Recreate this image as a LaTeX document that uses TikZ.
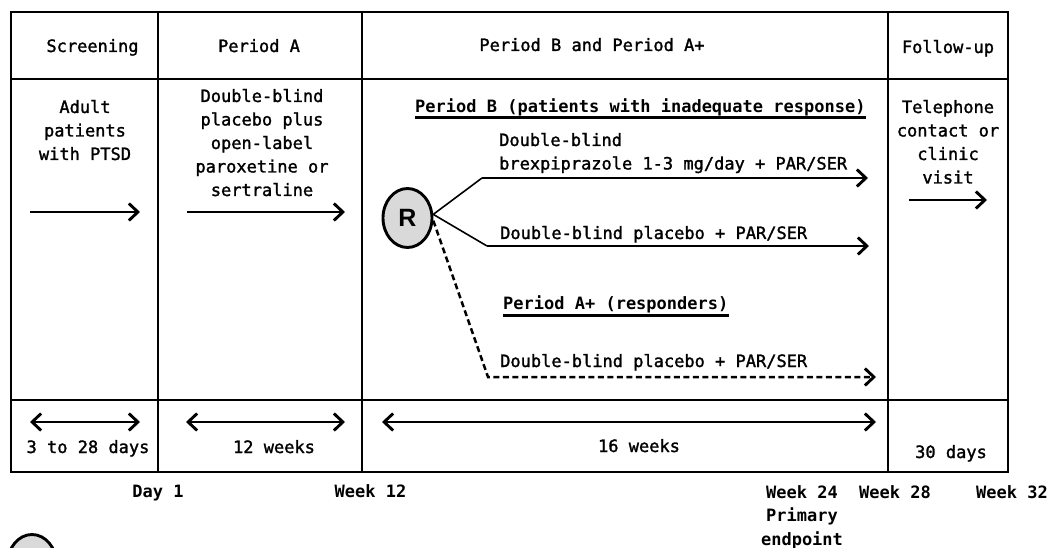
\documentclass[tikz,border=0pt]{standalone}
\usepackage{fontspec}
\setmonofont{DejaVu Sans Mono}
\newfontfamily\medmono{DejaVu Sans Mono}[FakeBold=1.5]
\newfontfamily\rfont{Liberation Sans}
\usetikzlibrary{arrows.meta,calc,shapes.geometric}
\definecolor{rgray}{HTML}{D9D9D9}
\begin{document}
\begin{tikzpicture}[x=1pt,y=-1pt,
  txt/.style={font=\medmono\fontsize{17}{23.5}\selectfont, inner sep=0pt, align=center, anchor=base},
  txtl/.style={font=\medmono\fontsize{17}{23.5}\selectfont, inner sep=0pt, align=left, anchor=base west},
  head/.style={font=\ttfamily\bfseries\fontsize{17}{23.5}\selectfont, inner sep=0pt, anchor=base west},
  bot/.style={font=\ttfamily\bfseries\fontsize{17}{23.5}\selectfont, inner sep=0pt, align=center, anchor=base},
  box/.style={line width=2.9pt},
  ul/.style={line width=2.2pt},
  arr/.style={line width=2.9pt, -{Straight Barb[length=9pt,width=17pt]}},
  darr/.style={line width=2.9pt, {Straight Barb[length=9pt,width=17pt]}-{Straight Barb[length=9pt,width=17pt]}},
  dasharr/.style={line width=2.5pt, dash pattern=on 6pt off 3.5pt, -{Straight Barb[length=9pt,width=17pt,line width=2.9pt]}},
  thinline/.style={line width=1.6pt},
  rnode/.style={ellipse, draw, line width=2.9pt, fill=rgray, minimum width=49pt, minimum height=59pt, inner sep=0pt, font=\rfont\bfseries\fontsize{25}{25}\selectfont}
]
\useasboundingbox (0,0) rectangle (1053,548);

% table frame
\draw[box] (11,12) rectangle (1008,472);
\draw[box] (11,79) -- (1008,79);
\draw[box] (11,400) -- (1008,400);
\draw[box] (158,12) -- (158,472);
\draw[box] (362,12) -- (362,472);
\draw[box] (888,12) -- (888,472);

% headers
\node[txt] (h1) at (92.5,52) {Screening};
\node[txt] (h2) at (259,52) {Period A};
\node[txt] (h3) at (592,51) {Period B and Period A+};
\node[txt] (h4) at (948,53) {Follow-up};

% body texts (base = last line)
\node[txt] (adult) at (85,160) {Adult\\patients\\with PTSD};
\node[txt] (pa) at (262,196) {Double-blind\\placebo plus\\open-label\\paroxetine or\\sertraline};
\node[txt] (fu) at (948,183.5) {Telephone\\contact or\\clinic\\visit};

% body arrows
\coordinate (s1) at (30,212); \coordinate (s2) at (140,212);
\draw[arr] (s1) -- (s2);
\coordinate (a1) at (187,212); \coordinate (a2) at (345,212);
\draw[arr] (a1) -- (a2);
\coordinate (f1) at (909,200); \coordinate (f2) at (987,200);
\draw[arr] (f1) -- (f2);

% Period B
\node[head] (pbh) at (415,113) {Period B (patients with inadequate response)};
\draw[ul] ($(pbh.base west)+(0,4.5)$) -- ($(pbh.base east)+(0,4.5)$);
\node[txtl] (t1) at (499,169.5) {Double-blind\\brexpiprazole 1-3 mg/day + PAR/SER};
\node[txtl] (t2) at (500,239) {Double-blind placebo + PAR/SER};

\node[rnode] (R) at (407.5,218) {R};
\coordinate (b1) at (482,178); \coordinate (e1) at (868,178);
\coordinate (b2) at (487,246); \coordinate (e2) at (869,246);
\coordinate (b3) at (488,377); \coordinate (e3) at (876,377);
\draw[thinline] (R.8) -- (b1);
\draw[arr] (b1) -- (e1);
\draw[thinline] (R.8) -- (b2);
\draw[arr] (b2) -- (e2);
\draw[dasharr] (R.-6) -- (b3) -- (e3);

% Period A+
\node[head] (pah) at (503,310) {Period A+ (responders)};
\draw[ul] ($(pah.base west)+(0,5.5)$) -- ($(pah.base east)+(0,5.5)$);
\node[txtl] (t3) at (500,367) {Double-blind placebo + PAR/SER};

% timeline arrows
\coordinate (d1) at (30,422); \coordinate (d2) at (140,422);
\draw[darr] (d1) -- (d2);
\coordinate (d3) at (186,422); \coordinate (d4) at (345,422);
\draw[darr] (d3) -- (d4);
\coordinate (d5) at (382,422); \coordinate (d6) at (876,422);
\draw[darr] (d5) -- (d6);

\node[txt] (l1) at (88,453) {3 to 28 days};
\node[txt] (l2) at (274,453) {12 weeks};
\node[txt] (l3) at (639,452) {16 weeks};
\node[txt] (l4) at (951,458) {30 days};

% bottom labels
\node[bot] (w0) at (158,497) {Day 1};
\node[bot] (w12) at (370.5,497) {Week 12};
\node[bot] (w24) at (802,545) {Week 24\\Primary\\endpoint};
\node[bot] (w28) at (895,498) {Week 28};
\node[bot] (w32) at (1012,498) {Week 32};

% legend circle (cut off)
\node[rnode] (Rleg) at (32,564) {};
\end{tikzpicture}
\end{document}
